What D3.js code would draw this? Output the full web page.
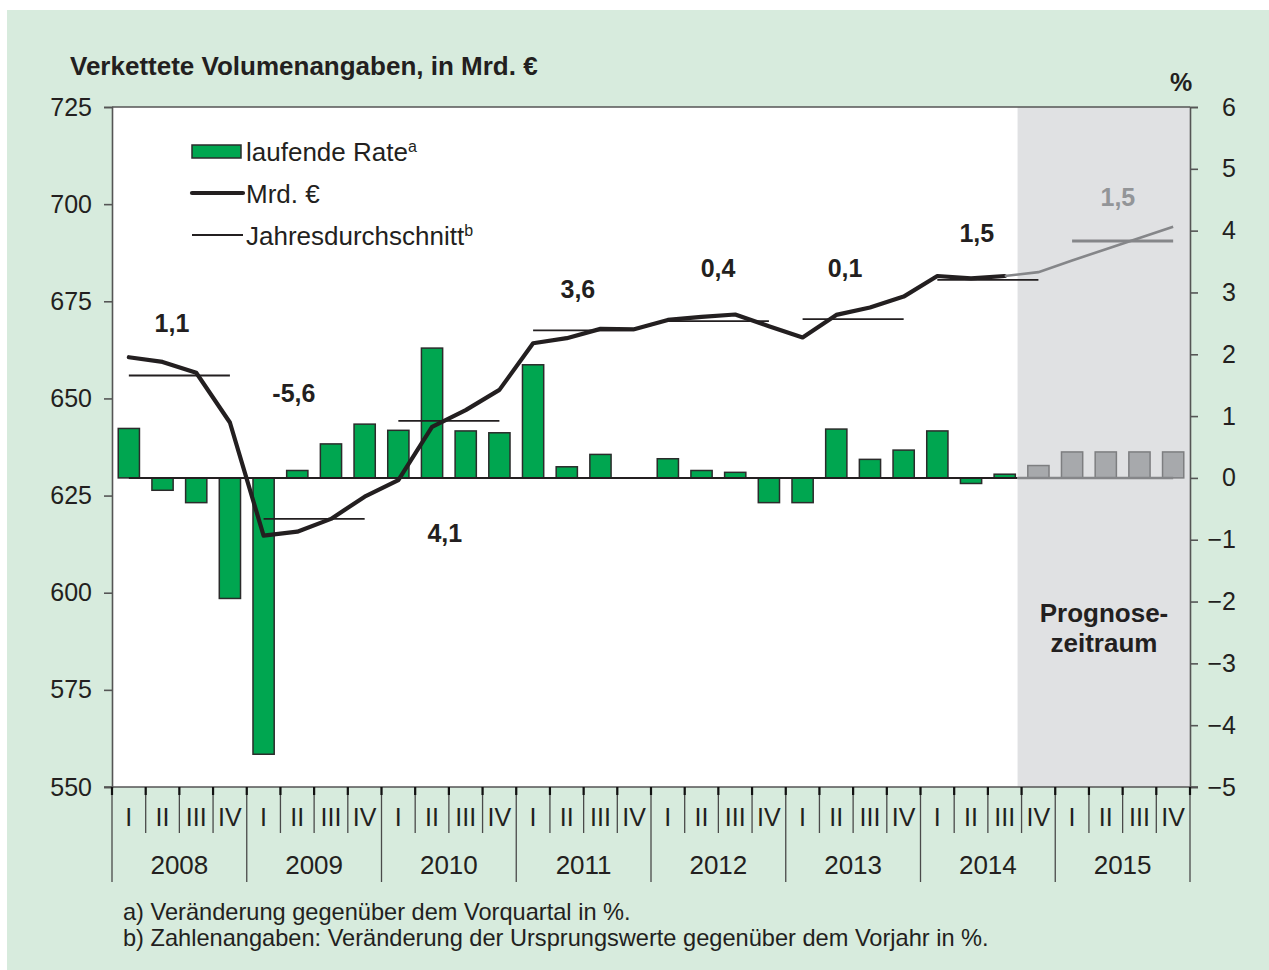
<!DOCTYPE html>
<html>
  <head>
    <meta charset="utf-8">
    <script src="https://cdnjs.cloudflare.com/ajax/libs/d3/7.8.5/d3.min.js"></script>
<style>
  body { margin: 0; background: #ffffff; }
  svg { display: block; font-family: "Liberation Sans", Arial, sans-serif; }
</style>
  </head>
  <body>
    <div id="vis"></div>
    <script type="text/javascript">

        // --- data ---
        const years = ["2008", "2009", "2010", "2011", "2012", "2013", "2014", "2015"];
        const quarters = ["I", "II", "III", "IV"];
        // laufende Rate, % vs previous quarter
        const rate = [0.8, -0.2, -0.4, -1.95,  -4.47, 0.12, 0.55, 0.87,
                      0.77, 2.1, 0.76, 0.73,   1.83, 0.18, 0.38, 0.0,
                      0.31, 0.12, 0.09, -0.4,  -0.4, 0.79, 0.3, 0.45,
                      0.76, -0.09, 0.06, 0.2,  0.42, 0.42, 0.42, 0.42];
        // Mrd. Euro, chained volumes
        const level = [660.6, 659.4, 656.6, 643.8,  614.7, 615.7, 619.0, 624.7,
                       629.0, 642.7, 647.0, 652.2,  664.2, 665.5, 667.9, 667.8,
                       670.2, 671.0, 671.6, 668.6,  665.7, 671.5, 673.4, 676.2,
                       681.5, 680.9, 681.5, 682.5,  685.5, 688.4, 691.3, 694.2];
        const annualAvg = [655.9, 619.0, 644.2, 667.5, 669.9, 670.4, 680.5, 690.5];
        const annualChange = ["1,1", "-5,6", "4,1", "3,6", "0,4", "0,1", "1,5", "1,5"];
        // where each annual label sits: [quarter position, Mrd. value]
        const labelAt = [[1.78, 669.4], [5.4, 651.4], [9.88, 615.4], [13.83, 678.2],
                         [17.99, 683.6], [21.76, 683.6], [25.67, 692.6], [29.86, 701.8]];
        const forecastStart = 27; // 2014 IV
        const leftTicks = [550, 575, 600, 625, 650, 675, 700, 725];
        const rightTicks = d3.range(-5, 7);

        const W = 1269, H = 970;
        const green = "#00a650", gray = "#a7a9ac", grayLine = "#858689";
        const bg = "#d7ebdd", fc = "#e0e1e3", ink = "#231f20";

        const svg = d3.select("#vis").append("svg")
            .attr("width", W).attr("height", H);

        svg.append("rect").attr("x", 7).attr("y", 10)
            .attr("width", W - 7).attr("height", H - 10).attr("fill", bg);

        const nQ = years.length * quarters.length;
        const x = d3.scaleLinear().domain([0, nQ]).range([112, 1190]);
        const yL = d3.scaleLinear().domain([550, 725]).range([787, 107]);
        const yR = d3.scaleLinear().domain([-5, 6]).range([787, 107]);
        const cx = i => x(i + 0.5);

        // plot area + forecast shading
        svg.append("rect").attr("x", x(0)).attr("y", yL(725))
            .attr("width", x(nQ) - x(0)).attr("height", yL(550) - yL(725))
            .attr("fill", "#ffffff");
        svg.append("rect").attr("x", x(forecastStart) - 4).attr("y", yL(725))
            .attr("width", x(nQ) - x(forecastStart) + 4).attr("height", yL(550) - yL(725))
            .attr("fill", fc);

        // bars
        const bw = (x(1) - x(0)) * 0.63;
        svg.append("g").selectAll("rect")
            .data(rate)
            .join("rect")
            .attr("x", (d, i) => cx(i) - bw / 2)
            .attr("y", d => yR(Math.max(0, d)))
            .attr("width", bw)
            .attr("height", d => Math.abs(yR(d) - yR(0)))
            .attr("fill", (d, i) => i >= forecastStart ? gray : green)
            .attr("stroke", (d, i) => i >= forecastStart ? "#7d7e80" : "#2b2b2b")
            .attr("stroke-width", 1.5);

        // zero line
        svg.append("line").attr("x1", cx(0)).attr("x2", x(forecastStart) - 4)
            .attr("y1", yR(0)).attr("y2", yR(0))
            .attr("stroke", ink).attr("stroke-width", 2);
        svg.append("line").attr("x1", x(forecastStart) - 4).attr("x2", cx(nQ - 1))
            .attr("y1", yR(0)).attr("y2", yR(0))
            .attr("stroke", grayLine).attr("stroke-width", 2.5);

        // annual averages
        svg.append("g").selectAll("line")
            .data(annualAvg)
            .join("line")
            .attr("x1", (d, i) => cx(i * 4))
            .attr("x2", (d, i) => cx(i * 4 + 3))
            .attr("y1", d => yL(d)).attr("y2", d => yL(d))
            .attr("stroke", (d, i) => i * 4 >= forecastStart ? grayLine : ink)
            .attr("stroke-width", (d, i) => i * 4 >= forecastStart ? 3 : 1.8);

        // level line
        const line = d3.line().x(d => cx(d.i)).y(d => yL(d.v));
        const pts = level.map((v, i) => ({i, v}));
        svg.append("path").datum(pts.slice(0, forecastStart))
            .attr("d", line).attr("fill", "none")
            .attr("stroke", ink).attr("stroke-width", 4.2)
            .attr("stroke-linejoin", "round").attr("stroke-linecap", "round");
        svg.append("path").datum(pts.slice(forecastStart - 1))
            .attr("d", line).attr("fill", "none")
            .attr("stroke", grayLine).attr("stroke-width", 2.6);

        // annual change labels
        svg.append("g").selectAll("text")
            .data(annualChange)
            .join("text")
            .attr("x", (d, i) => x(labelAt[i][0]))
            .attr("y", (d, i) => yL(labelAt[i][1]))
            .attr("text-anchor", "middle").attr("dominant-baseline", "central")
            .attr("font-size", 25).attr("font-weight", "bold")
            .attr("fill", (d, i) => i * 4 >= forecastStart ? "#939598" : ink)
            .text(d => d);

        // axes
        const axL = svg.append("g").attr("transform", `translate(${x(0)},0)`)
            .call(d3.axisLeft(yL).tickValues(leftTicks).tickSize(8).tickPadding(12).tickFormat(d3.format("d")));
        const axR = svg.append("g").attr("transform", `translate(${x(nQ)},0)`)
            .call(d3.axisRight(yR).tickValues(rightTicks).tickSize(8).tickPadding(46));
        axR.selectAll("text").attr("text-anchor", "end").attr("x", 46);
        [axL, axR].forEach(g => {
            g.select(".domain").attr("stroke", "#555").attr("stroke-width", 1.6);
            g.selectAll(".tick line").attr("stroke", "#555").attr("stroke-width", 1.6);
            g.selectAll("text").attr("font-size", 25).attr("fill", ink)
                .attr("font-family", "Liberation Sans, Arial, sans-serif");
        });
        svg.append("line").attr("x1", x(0)).attr("x2", x(nQ))
            .attr("y1", yL(725)).attr("y2", yL(725)).attr("stroke", "#555").attr("stroke-width", 1.6);
        svg.append("line").attr("x1", x(0) - 8).attr("x2", x(nQ) + 8)
            .attr("y1", yL(550)).attr("y2", yL(550)).attr("stroke", "#555").attr("stroke-width", 1.6);

        // category axis: quarters and years
        const xa = svg.append("g");
        xa.selectAll("line.q")
            .data(d3.range(nQ + 1))
            .join("line").attr("class", "q")
            .attr("x1", d => x(d)).attr("x2", d => x(d))
            .attr("y1", 787).attr("y2", d => d % 4 === 0 ? 882 : 833)
            .attr("stroke", "#4a4a4a").attr("stroke-width", 1.3);
        xa.selectAll("line.t")
            .data(d3.range(nQ + 1))
            .join("line").attr("class", "t")
            .attr("x1", d => x(d)).attr("x2", d => x(d))
            .attr("y1", 787).attr("y2", 795)
            .attr("stroke", "#111").attr("stroke-width", 2.2);
        xa.selectAll("text.q")
            .data(d3.range(nQ))
            .join("text").attr("class", "q")
            .attr("x", d => cx(d)).attr("y", 817)
            .attr("text-anchor", "middle").attr("dominant-baseline", "central")
            .attr("font-size", 25).attr("fill", ink)
            .text(d => quarters[d % 4]);
        xa.selectAll("text.y")
            .data(years)
            .join("text").attr("class", "y")
            .attr("x", (d, i) => x(i * 4 + 2)).attr("y", 865)
            .attr("text-anchor", "middle").attr("dominant-baseline", "central")
            .attr("font-size", 26).attr("fill", ink)
            .text(d => d);

        // titles
        svg.append("text").attr("x", 70).attr("y", 66)
            .attr("dominant-baseline", "central")
            .attr("font-size", 26).attr("font-weight", "bold").attr("fill", ink)
            .text("Verkettete Volumenangaben, in Mrd. €");
        svg.append("text").attr("x", 1181).attr("y", 82)
            .attr("text-anchor", "middle").attr("dominant-baseline", "central")
            .attr("font-size", 25).attr("font-weight", "bold").attr("fill", ink)
            .text("%");
        const pz = svg.append("text").attr("text-anchor", "middle")
            .attr("font-size", 26).attr("font-weight", "bold").attr("fill", ink);
        pz.append("tspan").attr("x", 1104).attr("y", 622).text("Prognose-");
        pz.append("tspan").attr("x", 1104).attr("y", 652).text("zeitraum");

        // legend
        const lg = svg.append("g");
        lg.append("rect").attr("x", 192).attr("y", 145).attr("width", 49).attr("height", 13)
            .attr("fill", green).attr("stroke", "#2b2b2b").attr("stroke-width", 1.5);
        lg.append("line").attr("x1", 192).attr("x2", 243).attr("y1", 193).attr("y2", 193)
            .attr("stroke", ink).attr("stroke-width", 4.2).attr("stroke-linecap", "round");
        lg.append("line").attr("x1", 192).attr("x2", 243).attr("y1", 235).attr("y2", 235)
            .attr("stroke", ink).attr("stroke-width", 1.8);
        const legendItems = [["laufende Rate", "a", 161], ["Mrd. €", "", 203], ["Jahresdurchschnitt", "b", 245]];
        legendItems.forEach(([t, sup, yy]) => {
            const tx = lg.append("text").attr("x", 246).attr("y", yy)
                .attr("font-size", 26).attr("fill", ink).text(t);
            if (sup) tx.append("tspan").attr("dy", -9).attr("font-size", 16).text(sup);
        });

        // footnotes
        svg.append("text").attr("x", 123).attr("y", 920)
            .attr("font-size", 23.6).attr("fill", ink)
            .text("a) Veränderung gegenüber dem Vorquartal in %.");
        svg.append("text").attr("x", 123).attr("y", 946)
            .attr("font-size", 23.6).attr("fill", ink)
            .text("b) Zahlenangaben: Veränderung der Ursprungswerte gegenüber dem Vorjahr in %.");

    </script>
  </body>
</html>
